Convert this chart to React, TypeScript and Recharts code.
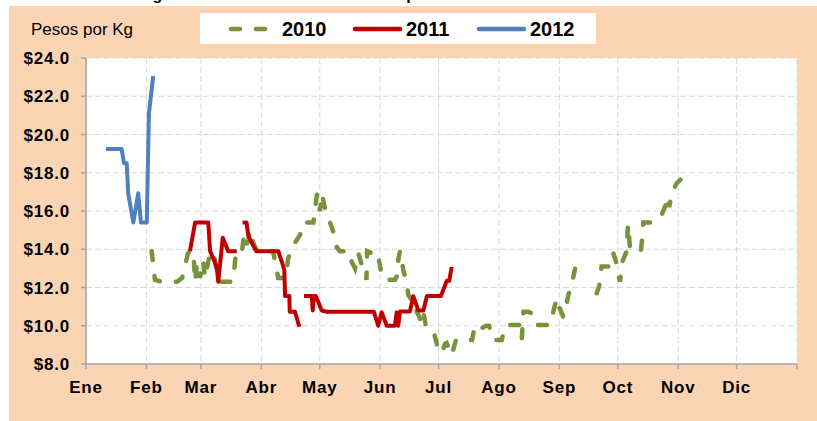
import React from 'react'
import { CartesianGrid, Line, LineChart, XAxis, YAxis } from 'recharts'

// day of year where each month begins (x axis is a 365 day scale)
const monthStarts = [0, 31, 59, 90, 120, 151, 181, 212, 243, 273, 304, 334, 365]
const monthLabels = ['Ene', 'Feb', 'Mar', 'Abr', 'May', 'Jun', 'Jul', 'Ago', 'Sep', 'Oct', 'Nov', 'Dic', '']
const priceTicks = [8, 10, 12, 14, 16, 18, 20, 22, 24]

// [day of year, pesos per kg]; null = no data
const series2010: [number, number | null][] = [
  [33.7, 13.9], [35.4, 12.4], [38.9, 12.3], [46.7, 12.3], [49.3, 12.5], [52.4, 13.8],
  [53.4, 13.9], [55.1, 13.9], [56.0, 12.3], [57.0, 13.3], [58.5, 12.5], [60.1, 13.4],
  [61.1, 12.5], [62.6, 13.3], [64.2, 13.9], [66.0, 13.5], [67.0, 12.8], [69.0, 12.3],
  [74.9, 12.3], [76.0, 12.8], [77.0, 13.9], [80.1, 13.9], [81.1, 14.7], [82.1, 14.2],
  [83.5, 14.5], [84.2, 15.0], [86.0, 14.3], [87.8, 13.9], [96.0, 13.9], [97.0, 13.4],
  [98.7, 12.5], [102.7, 12.5], [103.7, 13.5], [106.4, 14.2], [109.9, 14.75], [111.6, 15.4],
  [116.7, 15.4], [118.6, 16.9], [120.1, 16.0], [121.1, 16.9], [123.2, 15.9], [125.3, 15.4],
  [127.0, 14.9], [128.7, 14.1], [130.4, 13.9], [135.0, 13.9], [136.4, 13.35], [138.1, 13.0],
  [139.8, 13.8], [141.5, 13.2], [143.2, 12.8], [144.0, 12.4], [144.3, 13.9], [146.7, 13.8],
  [148.9, 13.9], [150.1, 13.6], [151.8, 12.65], [153.5, 12.4], [158.6, 12.4], [159.7, 12.6],
  [160.4, 13.5], [161.2, 13.9], [162.1, 13.45], [162.9, 12.9], [164.3, 12.4], [165.5, 11.6],
  [167.2, 11.35], [168.4, 11.4], [169.8, 10.73], [171.1, 10.47], [172.0, 10.2], [173.2, 10.7],
  [174.5, 10.0], [178.3, 9.78], [179.7, 9.2], [180.7, 8.8], [182.6, 8.56], [184.3, 9.05],
  [185.1, 9.1], [186.0, 8.9], [186.9, 8.47], [188.4, 8.7], [189.9, 9.25], [198.2, 9.25],
  [199.7, 10.04], [203.1, 9.87], [205.3, 10.0], [206.9, 10.0], [208.3, 9.5], [209.1, 9.25],
  [213.4, 9.25], [215.1, 9.95], [216.0, 10.04], [222.8, 10.04], [223.7, 9.3], [224.6, 10.73],
  [227.1, 10.73], [228.8, 10.65], [230.5, 10.04], [238.2, 10.04], [239.9, 10.73], [241.6, 11.43],
  [242.3, 11.0], [243.3, 10.9], [245.0, 10.47], [246.1, 10.8], [247.6, 11.6], [249.3, 12.2],
  [250.2, 12.56], [251.3, 13.1], [256, null], [262.2, 11.7], [263.5, 12.1], [264.7, 13.1],
  [269.0, 13.1], [270.7, 13.8], [272.1, 13.35], [273.3, 12.65], [274.1, 12.3], [275.5, 13.4],
  [277.6, 13.9], [278.2, 15.3], [279.3, 14.05], [281.8, 13.9], [284.8, 13.87], [285.4, 14.4],
  [286.1, 15.4], [290.4, 15.4], [293.1, 15.5], [295.5, 15.8], [297.5, 16.3], [298.3, 16.75],
  [299.4, 16.2], [300.7, 16.93], [303.2, 17.45], [305.8, 17.7], [307.0, 17.7], [308.4, 17.2],
]

const series2011: [number, number | null][] = [
  [53.4, 13.9], [56.0, 15.4], [62.8, 15.4], [63.7, 13.9], [67.1, 13.1], [67.9, 12.3],
  [70.2, 14.6], [73.0, 13.9], [77.4, 13.9], [79, null], [80.4, 15.4], [82.4, 15.4],
  [83.3, 14.7], [87.3, 13.9], [98.7, 13.9], [101.0, 13.2], [101.8, 12.9], [102.2, 11.55],
  [104.4, 11.55], [104.6, 10.73], [107.3, 10.73], [109.5, 9.95], [110.7, null], [111.9, 11.55],
  [115.9, 11.55], [116.4, 10.8], [117.0, 11.55], [118.0, 11.55], [121.0, 10.8], [123.6, 10.73],
  [147.8, 10.73], [150.0, 10.0], [151.8, 10.7], [154.4, 10.0], [158.6, 10.0], [159.5, 10.7],
  [160.3, 10.0], [161.2, 10.75], [166.3, 10.75], [168.0, 11.55], [170.6, 10.8], [173.2, 10.8],
  [175.0, 11.55], [182.2, 11.55], [185.2, 12.35], [186.5, 12.35], [187.7, 13.07],
]

const series2012: [number, number | null][] = [
  [10.3, 19.24], [18.3, 19.24], [19.5, 18.5], [20.9, 18.5], [21.7, 16.9], [24.3, 15.4],
  [26.8, 16.93], [28.2, 15.4], [31.2, 15.4], [32.3, 21.1], [34.5, 23.06],
]

const toPoints = (s: [number, number | null][]) => s.map(([day, price]) => ({ day, price }))

const GREEN = '#77933C'
const RED = '#C00000'
const BLUE = '#4F81BD'
const PEACH = '#FBD4B4'
const FONT = 'Liberation Sans, Arial, sans-serif'

const legendItems = [
  { label: '2010', color: GREEN, dash: '9 16' },
  { label: '2011', color: RED, dash: undefined },
  { label: '2012', color: BLUE, dash: undefined },
]

// legend drawn by hand so recharts does not reserve room for it
const LegendBox = () => (
  <svg width={396} height={31} style={{ position: 'absolute', left: 191, top: 7, background: '#fff' }}>
    {legendItems.map((it, i) => (
      <g key={it.label} transform={`translate(${29 + i * 124},0)`}>
        <line x1={2} x2={47} y1={16} y2={16} stroke={it.color} strokeWidth={4.5}
          strokeDasharray={it.dash} strokeLinecap='round' />
        <text x={53} y={23} fontSize={20} fontWeight={700} fontFamily={FONT} fill='#000'>
          {it.label}
        </text>
      </g>
    ))}
  </svg>
)

export default function App() {
  const tickStyle = { fill: '#000', fontSize: 17, fontWeight: 700, fontFamily: FONT, letterSpacing: 0.8 }
  return (
    <div style={{ position: 'absolute', left: 0, top: 0, width: 817, height: 421, background: '#fff', overflow: 'hidden' }}>
      <svg width={817} height={8} style={{ position: 'absolute', left: 0, top: 0 }}>
        <text x={60} y={0} fontSize={16} fontWeight={700} fontFamily={FONT} fill='#000'>
          Precio del Kg de Limón en Central de Abasto por Mes
        </text>
      </svg>
      <div style={{ position: 'absolute', left: 9, top: 6, width: 808, height: 415, background: PEACH }}>
        <LineChart width={808} height={415} margin={{ top: 52, right: 20, left: 0, bottom: 0 }}>
          <CartesianGrid stroke='#D9D9D9' strokeDasharray='6 3' fill='#fff' fillOpacity={1} />
          <XAxis
            type='number'
            dataKey='day'
            domain={[0, 365]}
            ticks={monthStarts}
            interval={0}
            height={57}
            tickFormatter={(v: number) => monthLabels[monthStarts.indexOf(v)] ?? ''}
            tick={tickStyle}
            tickSize={5}
            tickMargin={12}
            axisLine={{ stroke: '#A6A6A6', strokeWidth: 1.5 }}
            tickLine={{ stroke: '#A6A6A6', strokeWidth: 1.5 }}
            allowDataOverflow
          />
          <YAxis
            type='number'
            domain={[8, 24]}
            ticks={priceTicks}
            interval={0}
            width={77}
            tickFormatter={(v: number) => `$${v.toFixed(1)}`}
            tick={tickStyle}
            tickSize={5}
            tickMargin={11}
            axisLine={{ stroke: '#A6A6A6', strokeWidth: 1.5 }}
            tickLine={{ stroke: '#A6A6A6', strokeWidth: 1.5 }}
            allowDataOverflow
          />
          <Line data={toPoints(series2010)} dataKey='price' name='2010' type='linear' stroke={GREEN}
            strokeWidth={4.5} strokeDasharray='9 16' strokeLinecap='round' dot={false}
            isAnimationActive={false} />
          <Line data={toPoints(series2011)} dataKey='price' name='2011' type='linear' stroke={RED}
            strokeWidth={4} strokeLinejoin='round' dot={false} isAnimationActive={false} />
          <Line data={toPoints(series2012)} dataKey='price' name='2012' type='linear' stroke={BLUE}
            strokeWidth={4} strokeLinejoin='round' dot={false} isAnimationActive={false} />
        </LineChart>
        <LegendBox />
        <svg width={150} height={40} style={{ position: 'absolute', left: 0, top: 0 }}>
          <text x={22} y={29} fontSize={17} fontFamily={FONT} fill='#000'>Pesos por Kg</text>
        </svg>
      </div>
    </div>
  )
}
